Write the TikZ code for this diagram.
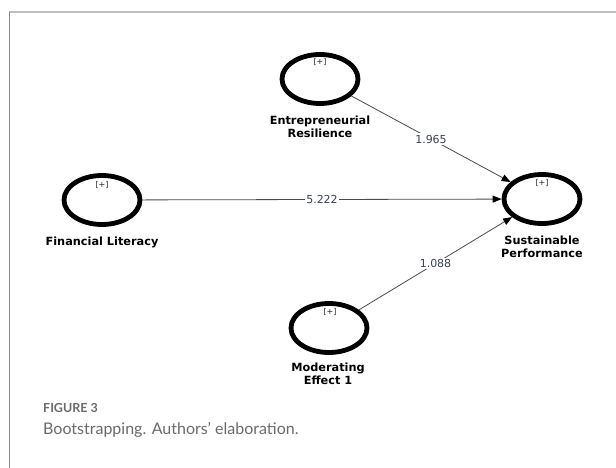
\documentclass[tikz,border=0pt]{standalone}
\usepackage{fontspec}
\usepackage{tikz}
\usetikzlibrary{positioning}
\usetikzlibrary{shapes.geometric}
\usetikzlibrary{arrows.meta}
\newfontfamily\pathfont{DejaVu Sans}
\newfontfamily\capfont{Lato}
\definecolor{linkgray}{HTML}{4A4A4A}
\definecolor{valblue}{HTML}{3A4052}
\definecolor{capgray}{HTML}{6A6A6A}
\definecolor{topgray}{HTML}{BEBEBE}
\definecolor{sidegray}{HTML}{8C8C8C}

\tikzset{
  construct/.style={ellipse, draw=black, line width=4.8pt, minimum width=76pt, minimum height=49pt, inner sep=0pt},
  plustag/.style={font=\pathfont\fontsize{8}{9}\selectfont, text=black!85, inner sep=0pt},
  cname/.style={font=\pathfont\bfseries\fontsize{11.3}{13}\selectfont, align=center, inner sep=0pt},
  relarrow/.style={draw=linkgray, line width=0.8pt, -{Triangle[length=9pt,width=7pt,color=black]}},
  tval/.style={font=\pathfont\fontsize{11}{12}\selectfont, text=valblue, fill=white, inner sep=1.5pt}
}

\begin{document}
\begin{tikzpicture}[x=1pt,y=-1pt]
\useasboundingbox (0,0) rectangle (616,468);
\draw[topgray, line width=1.5pt] (9,12) -- (616,12);
\draw[sidegray, line width=1pt] (9,12) -- (9,468);

% constructs
\node (er) at (320,79) [construct] {};
\node (fl) at (102,200) [construct] {};
\node (sp) at (542,199) [construct] {};
\node (me) at (329,328) [construct] {};

\node (erplus) at (320,62) [plustag] {[+]};
\node (flplus) at (102,185) [plustag] {[+]};
\node (spplus) at (542,183) [plustag] {[+]};
\node (meplus) at (330,312) [plustag] {[+]};

\node (erlab) at (320,126.5) [cname] {Entrepreneurial\\Resilience};
\node (fllab) at (102,242) [cname] {Financial Literacy};
\node (splab) at (542,246.5) [cname] {Sustainable\\Performance};
\node (melab) at (328,373.5) [cname] {Moderating\\Effect 1};

% paths with t values
\draw[relarrow] (er) -- node (v1) [tval] {1.965} (sp);
\draw[relarrow] (fl) -- node (v2) [tval] {5.222} (sp);
\draw[relarrow] (me) -- node (v3) [tval] {1.088} (sp);

% caption
\node (fignum) at (43,412) [anchor=base west, inner sep=0pt, text=capgray, font=\capfont\bfseries\fontsize{12.5}{14}\selectfont] {FIGURE 3};
\node (figcap) at (43,434) [anchor=base west, inner sep=0pt, text=capgray, font=\capfont\fontsize{16}{19}\selectfont] {Bootstrapping. Authors’ elaboration.};
\end{tikzpicture}
\end{document}
